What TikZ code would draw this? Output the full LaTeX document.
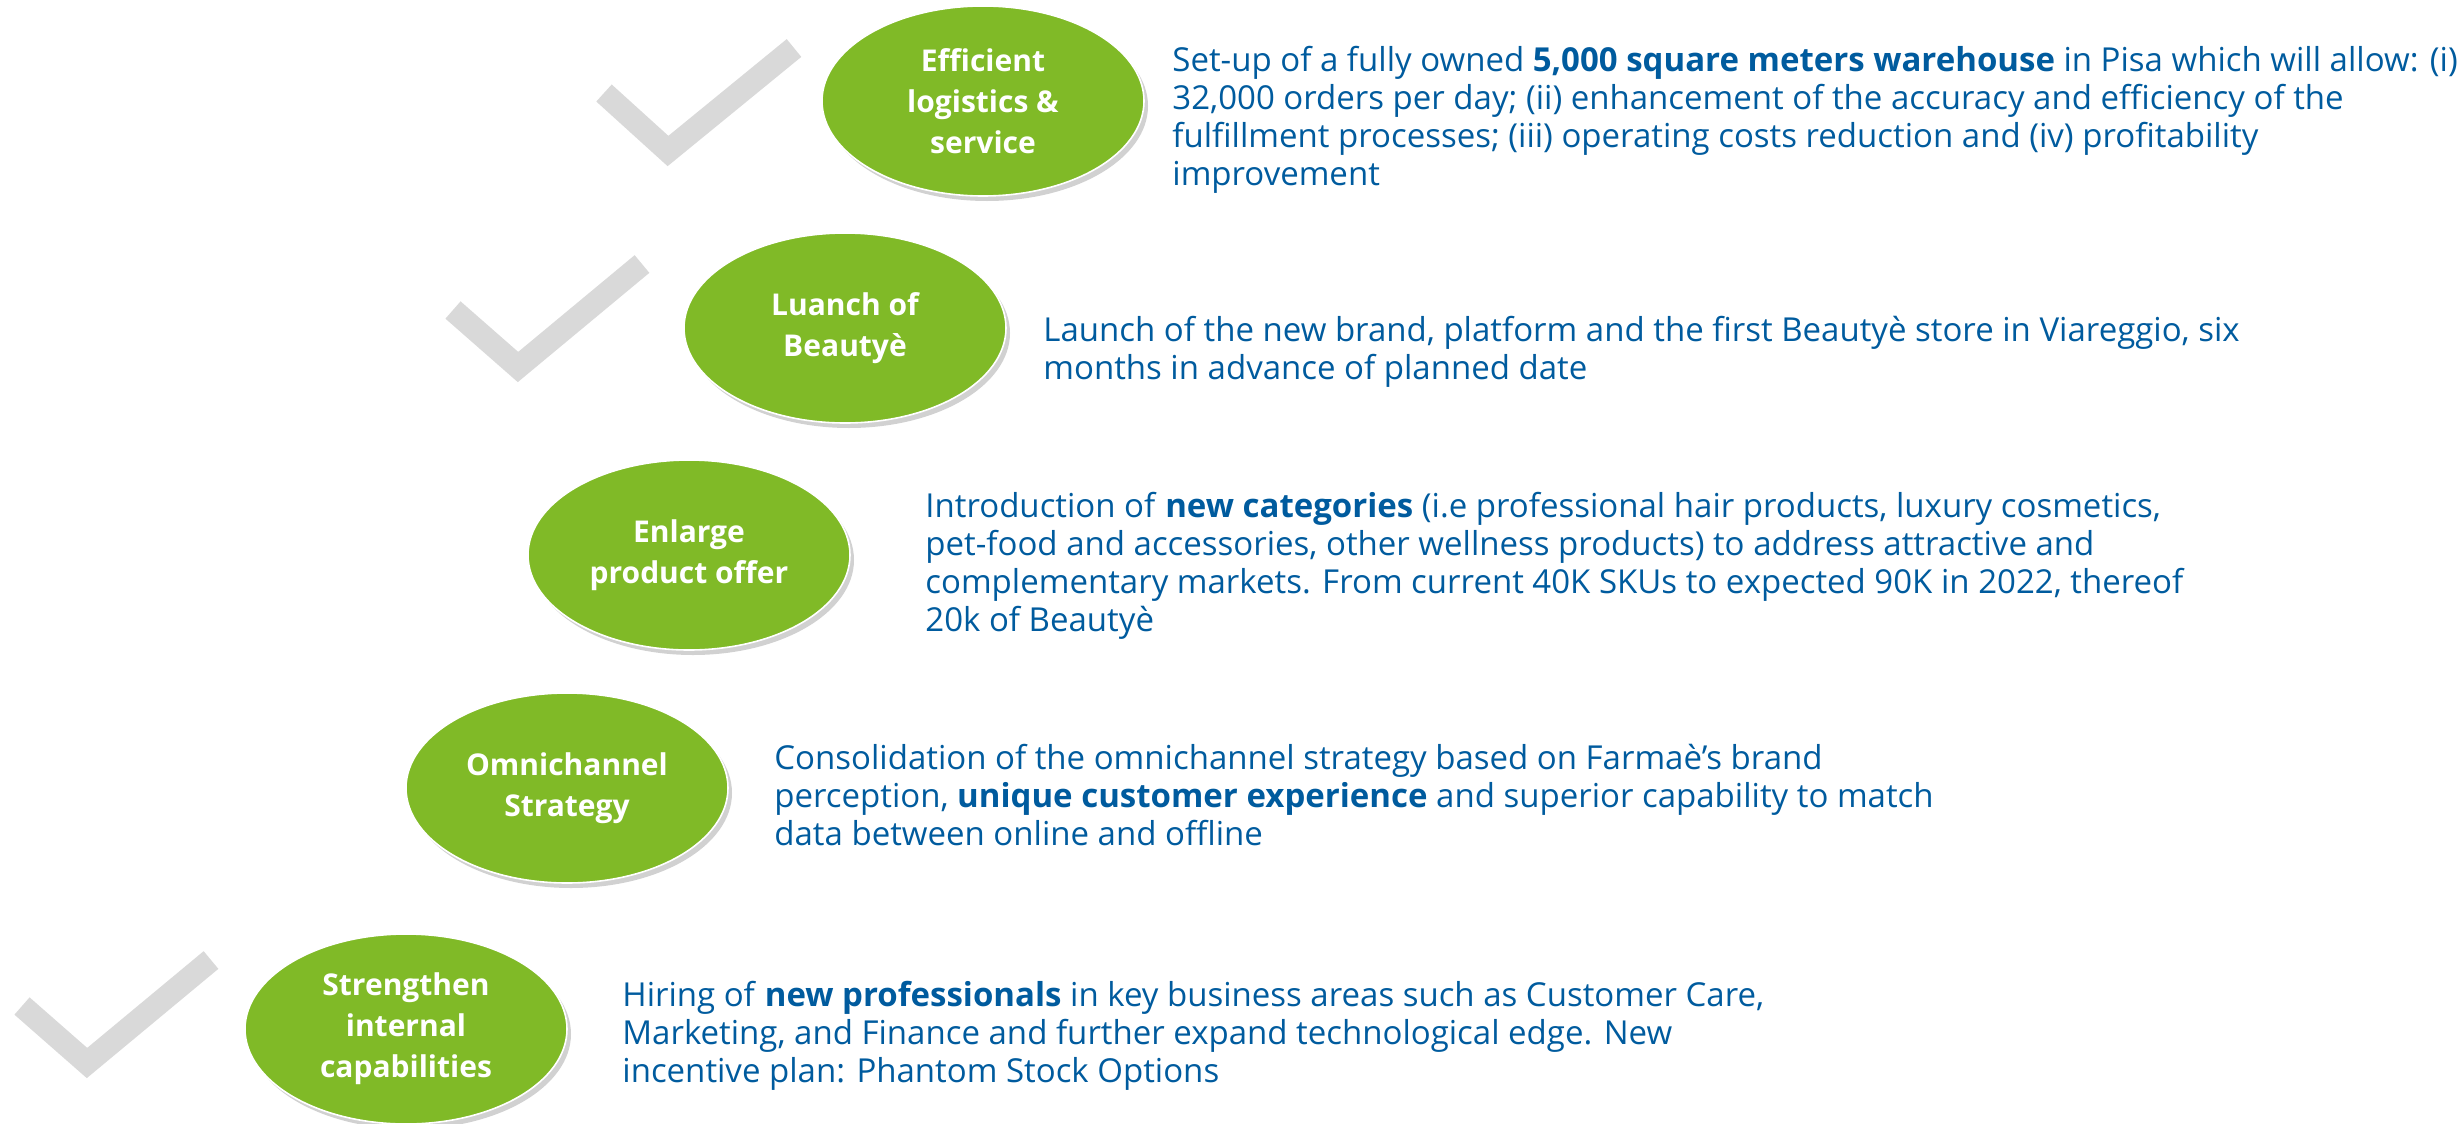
\documentclass[tikz,border=0pt]{standalone}
\usepackage{fontspec}
\setmainfont{Open Sans}
\usetikzlibrary{shapes.geometric,shadows}
\definecolor{leafgreen}{RGB}{128,186,39}
\definecolor{inkblue}{RGB}{0,91,158}
\definecolor{tickgray}{RGB}{217,217,217}
\tikzset{
  goal/.style={ellipse, fill=leafgreen, draw=white, line width=0.8pt,
    minimum width=161pt, minimum height=95pt, inner sep=0pt,
    text=white, align=center,
    font=\fontsize{15}{20.5}\selectfont\bfseries,
    drop shadow={shadow xshift=2pt, shadow yshift=-2.5pt, opacity=0.3, fill=black!60}},
  detail/.style={anchor=west, align=left, inner sep=0pt, text=inkblue,
    font=\fontsize{16.5}{18.9}\selectfont},
  tick/.style={draw=tickgray, line width=11.5pt, line cap=butt, line join=miter}
}
\begin{document}
\begin{tikzpicture}[x=0.5pt,y=-0.5pt]
\useasboundingbox (0,0) rectangle (2463,1124);

% grey ticks beside the completed goals
\draw[tick] (604,93) -- (668,151) -- (794,48);
\draw[tick] (453,310) -- (518,367) -- (642,264);
\draw[tick] (22,1006) -- (87,1063) -- (211,960);

% goal ellipses
\node[goal] (logistics) at (983,101) {Efficient\\logistics \&\\service};
\node[goal] (beautye) at (845,328) {Luanch of\\Beautyè};
\node[goal] (offer) at (689,555) {Enlarge\\product offer};
\node[goal] (omni) at (567,788) {Omnichannel\\Strategy};
\node[goal] (people) at (406,1029) {Strengthen\\internal\\capabilities};

% descriptions
\node[detail] (logisticsTxt) at (1172,120) {Set-up of a fully owned \textbf{5,000 square meters warehouse} in Pisa which will allow: (i)\\32,000 orders per day; (ii) enhancement of the accuracy and efficiency of the\\fulfillment processes; (iii) operating costs reduction and (iv) profitability\\improvement};
\node[detail] (beautyeTxt) at (1043,352) {Launch of the new brand, platform and the first Beautyè store in Viareggio, six\\months in advance of planned date};
\node[detail] (offerTxt) at (925,566) {Introduction of \textbf{new categories} (i.e professional hair products, luxury cosmetics,\\pet-food and accessories, other wellness products) to address attractive and\\complementary markets. From current 40K SKUs to expected 90K in 2022, thereof\\20k of Beautyè};
\node[detail] (omniTxt) at (774,795) {Consolidation of the omnichannel strategy based on Farmaè’s brand\\perception, \textbf{unique customer experience} and superior capability to match\\data between online and offline};
\node[detail] (peopleTxt) at (622,1036) {Hiring of \textbf{new professionals} in key business areas such as Customer Care,\\Marketing, and Finance and further expand technological edge. New\\incentive plan: Phantom Stock Options};
\end{tikzpicture}
\end{document}
